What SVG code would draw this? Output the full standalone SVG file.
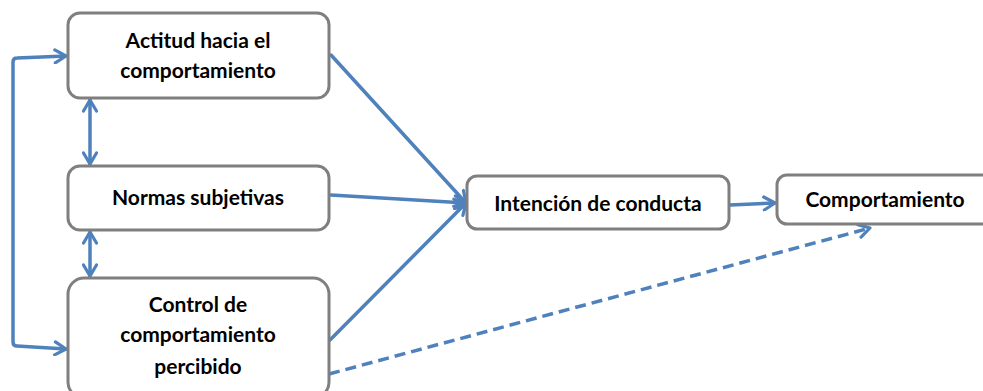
<svg xmlns="http://www.w3.org/2000/svg" width="983" height="391" viewBox="0 0 983 391">
<style>
.box{fill:#fff;stroke:#7f7f7f;stroke-width:3}
.t{font-family:Lato,"Liberation Sans",sans-serif;font-weight:bold;font-size:21px;fill:#000;text-anchor:middle}
.c{fill:none;stroke:#4f81bd;stroke-width:3.5;stroke-linecap:round;stroke-linejoin:round}
.d{stroke-dasharray:11 6;stroke-linecap:butt}
</style>
<defs>
<marker id="ah" viewBox="0 0 16 16" refX="14" refY="8" markerWidth="16" markerHeight="16" markerUnits="userSpaceOnUse" orient="auto-start-reverse">
<path d="M3,1.5 L14,8 L3,14.5" fill="none" stroke="#4f81bd" stroke-width="3.2" stroke-linecap="round" stroke-linejoin="round"/>
</marker>
</defs>
<g id="connectors">
<path class="c" d="M66,56 L17,58 Q13,58 13,62 L13,342 Q13,346 17,346 L66,349" marker-start="url(#ah)" marker-end="url(#ah)"/>
<line class="c" x1="90" y1="100" x2="90" y2="164" marker-start="url(#ah)" marker-end="url(#ah)"/>
<line class="c" x1="90" y1="232" x2="90" y2="276" marker-start="url(#ah)" marker-end="url(#ah)"/>
<line class="c" x1="331" y1="55" x2="466" y2="203" marker-end="url(#ah)"/>
<line class="c" x1="331" y1="195" x2="466" y2="203" marker-end="url(#ah)"/>
<line class="c" x1="330" y1="340" x2="466" y2="203" marker-end="url(#ah)"/>
<line class="c" x1="730" y1="205" x2="775" y2="203" marker-end="url(#ah)"/>
<line class="c d" x1="329" y1="374" x2="870" y2="228" marker-end="url(#ah)"/>
</g>
<g id="actitud">
<rect class="box" x="68" y="13" width="261" height="85" rx="12"/>
<text class="t" x="198" y="48">Actitud hacia el</text>
<text class="t" x="198" y="78">comportamiento</text>
</g>
<g id="normas">
<rect class="box" x="68" y="166" width="261" height="64" rx="12"/>
<text class="t" x="198" y="205">Normas subjetivas</text>
</g>
<g id="control">
<rect class="box" x="68" y="278" width="261" height="120" rx="16"/>
<text class="t" x="198" y="312">Control de</text>
<text class="t" x="198" y="342">comportamiento</text>
<text class="t" x="198" y="374">percibido</text>
</g>
<g id="intencion">
<rect class="box" x="467" y="176" width="262" height="53" rx="10"/>
<text class="t" x="598" y="211">Intención de conducta</text>
</g>
<g id="comportamiento">
<rect class="box" x="777" y="175" width="220" height="49" rx="10"/>
<text class="t" x="885" y="207">Comportamiento</text>
</g>
</svg>
